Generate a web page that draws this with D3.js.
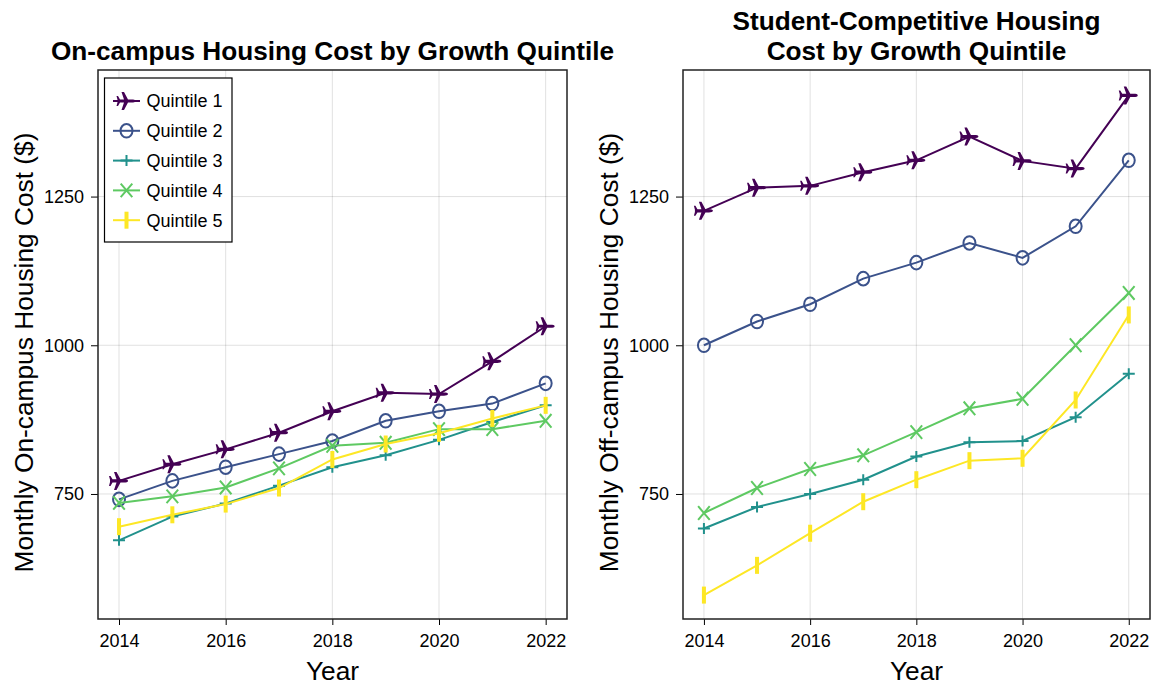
<!DOCTYPE html>
<html>
<head>
<meta charset="utf-8">
<script src="https://cdn.jsdelivr.net/npm/d3@7"></script>
<style>
  html, body { margin: 0; padding: 0; background: #fff; }
  svg { display: block; font-family: "Liberation Sans", Arial, Helvetica, sans-serif; }
</style>
</head>
<body>
<svg id="chart" width="1156" height="686"></svg>
<script>
// Survey years
const years = [2014, 2015, 2016, 2017, 2018, 2019, 2020, 2021, 2022];
const xTicks = [2014, 2016, 2018, 2020, 2022];
const yTicks = [750, 1000, 1250];

const seriesNames = ["Quintile 1", "Quintile 2", "Quintile 3", "Quintile 4", "Quintile 5"];
const seriesColors = ["#440154", "#3b528b", "#21918c", "#5ec962", "#fde725"];
const seriesMarkers = ["plane", "circle", "plus", "cross", "vbar"];

// Monthly on-campus housing cost ($) by growth quintile
const onQ1 = [772, 800, 825, 853, 889, 920, 918, 973, 1032];
const onQ2 = [741, 772, 795, 817, 839, 873, 889, 902, 936];
const onQ3 = [672, 712, 734, 764, 795, 815, 841, 871, 899];
const onQ4 = [735, 746, 761, 793, 831, 836, 859, 859, 873];
const onQ5 = [695, 715, 733, 760, 808, 834, 852, 877, 899];

// Monthly student-competitive off-campus housing cost ($) by growth quintile
const offQ1 = [1226, 1265, 1268, 1291, 1311, 1351, 1310, 1297, 1420];
const offQ2 = [1000, 1040, 1069, 1112, 1139, 1172, 1147, 1200, 1311];
const offQ3 = [692, 728, 750, 774, 813, 837, 839, 879, 952];
const offQ4 = [718, 760, 792, 815, 854, 894, 910, 1000, 1088];
const offQ5 = [580, 630, 684, 737, 774, 806, 810, 908, 1051];

const panels = [
  { left: 98, right: 567, titleLines: ["On-campus Housing Cost by Growth Quintile"],
    ylabel: "Monthly On-campus Housing Cost ($)", ylabelX: 24,
    series: [onQ1, onQ2, onQ3, onQ4, onQ5], legend: true },
  { left: 683, right: 1150, titleLines: ["Student-Competitive Housing", "Cost by Growth Quintile"],
    ylabel: "Monthly Off-campus Housing Cost ($)", ylabelX: 609,
    series: [offQ1, offQ2, offQ3, offQ4, offQ5], legend: false }
];

const plotTop = 70, plotBottom = 619;
const xDomain = [2013.606, 2022.4];
const yDomain = [539.8, 1462.8];

const svg = d3.select("#chart");
svg.append("rect").attr("width", 1156).attr("height", 686).attr("fill", "#fff");

const planePath = "M9,0 C9,-1.3 7,-1.6 5,-1.6 L1.5,-1.6 L-2.5,-9 L-5,-9 L-2.5,-1.6 L-6.5,-1.6 L-8.5,-5 L-10,-5 L-9,-1.2 L-9,1.2 L-10,5 L-8.5,5 L-6.5,1.6 L-2.5,1.6 L-5,9 L-2.5,9 L1.5,1.6 L5,1.6 C7,1.6 9,1.3 9,0 Z";

function drawMarker(g, type, color) {
  if (type === "plane") {
    g.append("path").attr("d", planePath).attr("fill", color);
  } else if (type === "circle") {
    g.append("ellipse").attr("rx", 6).attr("ry", 6.8)
      .attr("fill", "none").attr("stroke", color).attr("stroke-width", 2);
  } else if (type === "plus") {
    g.append("path").attr("d", "M-6,0 H6 M0,-5.5 V5.5")
      .attr("stroke", color).attr("stroke-width", 2).attr("fill", "none");
  } else if (type === "cross") {
    g.append("path").attr("d", "M-5.8,-6.8 L5.8,6.8 M5.8,-6.8 L-5.8,6.8")
      .attr("stroke", color).attr("stroke-width", 2).attr("fill", "none");
  } else if (type === "vbar") {
    g.append("rect").attr("x", -2).attr("y", -8.5).attr("width", 4).attr("height", 17)
      .attr("fill", color);
  }
}

panels.forEach(p => {
  const x = d3.scaleLinear().domain(xDomain).range([p.left, p.right]);
  const y = d3.scaleLinear().domain(yDomain).range([plotBottom, plotTop]);
  const g = svg.append("g");

  // grid
  g.append("g").selectAll("line").data(xTicks).join("line")
    .attr("x1", d => x(d)).attr("x2", d => x(d)).attr("y1", plotTop).attr("y2", plotBottom)
    .attr("stroke", "#000").attr("stroke-opacity", 0.12).attr("stroke-width", 1);
  g.append("g").selectAll("line").data(yTicks).join("line")
    .attr("x1", p.left).attr("x2", p.right).attr("y1", d => y(d)).attr("y2", d => y(d))
    .attr("stroke", "#000").attr("stroke-opacity", 0.12).attr("stroke-width", 1);

  // series
  const line = d3.line().x((d, i) => x(years[i])).y(d => y(d));
  p.series.forEach((vals, si) => {
    const sg = g.append("g");
    sg.append("path").datum(vals).attr("d", line)
      .attr("fill", "none").attr("stroke", seriesColors[si]).attr("stroke-width", 2);
    vals.forEach((v, i) => {
      const mg = sg.append("g").attr("transform", `translate(${x(years[i])},${y(v)})`);
      drawMarker(mg, seriesMarkers[si], seriesColors[si]);
    });
  });

  // axes
  const xAxis = d3.axisBottom(x).tickValues(xTicks).tickFormat(d3.format("d"))
    .tickSize(6).tickPadding(9);
  const gx = g.append("g").attr("transform", `translate(0,${plotBottom})`).call(xAxis);
  gx.select(".domain").remove();
  gx.selectAll("text").attr("font-size", 18).attr("fill", "#000")
    .attr("font-family", "'Liberation Sans', Arial, sans-serif");
  gx.selectAll("line").attr("stroke", "#000");

  const yAxis = d3.axisLeft(y).tickValues(yTicks).tickFormat(d3.format("d"))
    .tickSize(7).tickPadding(7);
  const gy = g.append("g").attr("transform", `translate(${p.left},0)`).call(yAxis);
  gy.select(".domain").remove();
  gy.selectAll("text").attr("font-size", 18).attr("fill", "#000")
    .attr("font-family", "'Liberation Sans', Arial, sans-serif");
  gy.selectAll("line").attr("stroke", "#000");

  // frame
  g.append("rect").attr("x", p.left).attr("y", plotTop)
    .attr("width", p.right - p.left).attr("height", plotBottom - plotTop)
    .attr("fill", "none").attr("stroke", "#222").attr("stroke-width", 1.5);

  // title
  const cx = (p.left + p.right) / 2;
  const nLines = p.titleLines.length;
  p.titleLines.forEach((t, i) => {
    g.append("text").attr("x", cx).attr("y", 59.5 - (nLines - 1 - i) * 30)
      .attr("text-anchor", "middle").attr("font-size", 26.2).attr("font-weight", "bold")
      .attr("fill", "#000").text(t);
  });

  // axis labels
  g.append("text").attr("x", cx).attr("y", 680).attr("text-anchor", "middle")
    .attr("font-size", 26.3).attr("fill", "#000").text("Year");
  g.append("text").attr("transform", `translate(${p.ylabelX + 9},${(plotTop + plotBottom) / 2 + 8}) rotate(-90)`)
    .attr("text-anchor", "middle").attr("font-size", 26.3).attr("fill", "#000").text(p.ylabel);

  // legend
  if (p.legend) {
    const lg = g.append("g");
    lg.append("rect").attr("x", 104.5).attr("y", 78).attr("width", 127.5).attr("height", 164)
      .attr("fill", "#fff").attr("stroke", "#000").attr("stroke-width", 1.2);
    seriesNames.forEach((name, i) => {
      const ly = 101 + i * 29.8;
      lg.append("line").attr("x1", 113).attr("x2", 140).attr("y1", ly).attr("y2", ly)
        .attr("stroke", seriesColors[i]).attr("stroke-width", 2);
      const mg = lg.append("g").attr("transform", `translate(126.5,${ly})`);
      drawMarker(mg, seriesMarkers[i], seriesColors[i]);
      lg.append("text").attr("x", 146.5).attr("y", ly + 6.3).attr("font-size", 18)
        .attr("fill", "#000").text(name);
    });
  }
});
</script>
</body>
</html>
